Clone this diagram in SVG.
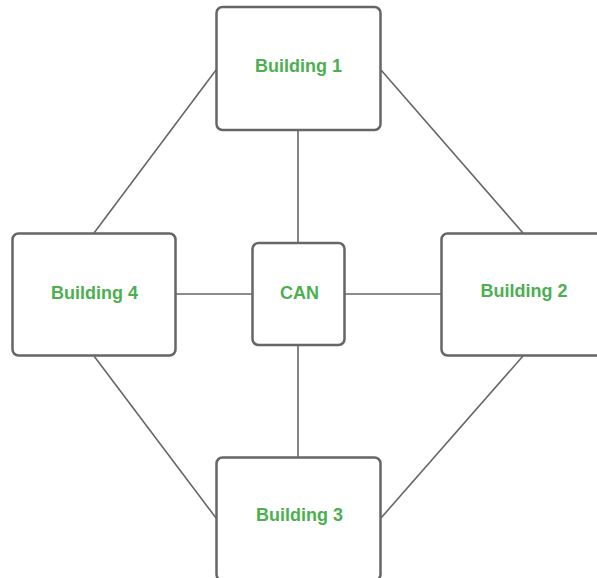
<svg xmlns="http://www.w3.org/2000/svg" width="597" height="578" viewBox="0 0 597 578">
<style>
.box{fill:#fff;stroke:#666;stroke-width:2.5}
.lbl{font-family:"Liberation Sans",Arial,sans-serif;font-weight:bold;font-size:18px;fill:#4CAF50;text-anchor:middle}
.conn line{stroke:#666;stroke-width:1.6}
</style>
<rect width="597" height="578" fill="#fff"/>
<g class="conn" id="connectors">
<line x1="216" y1="70" x2="94" y2="233"/>
<line x1="381" y1="70" x2="523" y2="233"/>
<line x1="94" y1="356" x2="216" y2="518"/>
<line x1="381" y1="518" x2="523" y2="356"/>
<line x1="298" y1="130" x2="298" y2="243"/>
<line x1="298" y1="345" x2="298" y2="457"/>
<line x1="176" y1="294" x2="252" y2="294"/>
<line x1="345" y1="294" x2="441" y2="294"/>
</g>
<g id="building1"><rect class="box" x="216.5" y="7" width="164" height="123" rx="6"/><text class="lbl" x="298.5" y="72">Building 1</text></g>
<g id="building4"><rect class="box" x="12.5" y="233.5" width="163" height="122" rx="6"/><text class="lbl" x="94.5" y="299">Building 4</text></g>
<g id="can"><rect class="box" x="252.5" y="243" width="92" height="102" rx="6"/><text class="lbl" x="299.5" y="299">CAN</text></g>
<g id="building2"><rect class="box" x="441.5" y="233.5" width="164" height="122" rx="6"/><text class="lbl" x="524" y="297">Building 2</text></g>
<g id="building3"><rect class="box" x="216.5" y="457.5" width="164" height="123" rx="6"/><text class="lbl" x="299.5" y="521">Building 3</text></g>
</svg>
